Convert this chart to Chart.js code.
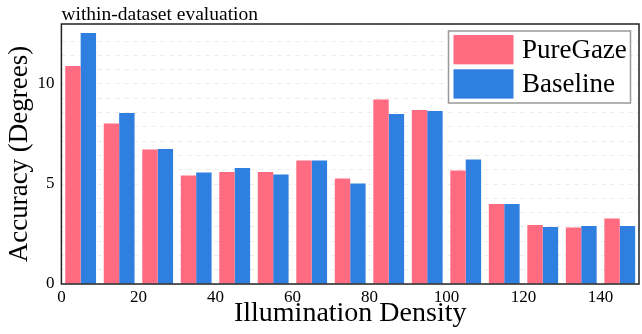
<!DOCTYPE html>
<html>
<head>
<meta charset="utf-8">
<script src="https://cdn.jsdelivr.net/npm/chart.js@4"></script>
<style>
  html, body { margin: 0; padding: 0; background: #ffffff; }
  #wrap { width: 642px; height: 334px; position: relative; }
</style>
</head>
<body>
<div id="wrap"><canvas id="c" width="642" height="334"></canvas></div>
<script>
// ---- data ----
const densityCenters = [5, 15, 25, 35, 45, 55, 65, 75, 85, 95, 105, 115, 125, 135, 145];
const pureGazeValues = [10.9, 8.02, 6.73, 5.42, 5.6, 5.6, 6.17, 5.28, 9.22, 8.7, 5.68, 4.0, 2.95, 2.82, 3.28];
const baselineValues = [12.55, 8.55, 6.75, 5.57, 5.8, 5.47, 6.17, 5.03, 8.5, 8.65, 6.23, 4.0, 2.85, 2.9, 2.9];
const xTickLabels = [0, 20, 40, 60, 80, 100, 120, 140];
const yTickLabels = [0, 5, 10];
const seriesNames = ['PureGaze', 'Baseline'];
const chartTitle = 'within-dataset evaluation';
const xTitle = 'Illumination Density';
const yTitle = 'Accuracy (Degrees)';

const SERIF = '"Liberation Serif", "DejaVu Serif", serif';
const PINK = '#ff6b81';
const BLUE = '#2f7fe0';

const toPoints = (vals) => vals.map((v, i) => ({ x: densityCenters[i], y: v }));

const framePlugin = {
  id: 'frameAndDecor',
  afterDraw(chart) {
    const { ctx, chartArea: ca } = chart;
    ctx.save();
    // frame
    ctx.strokeStyle = '#222';
    ctx.lineWidth = 1.5;
    ctx.strokeRect(ca.left, ca.top, ca.right - ca.left, ca.bottom - ca.top);
    // title
    ctx.fillStyle = '#000';
    ctx.font = '19.5px ' + SERIF;
    ctx.textAlign = 'left';
    ctx.textBaseline = 'alphabetic';
    ctx.fillText(chartTitle, ca.left, 19.5);
    // legend
    const bx = ca.right - 190.5, by = ca.top + 7, bw = 182, bh = 72;
    ctx.fillStyle = '#fff';
    ctx.fillRect(bx, by, bw, bh);
    ctx.strokeStyle = '#999';
    ctx.lineWidth = 1.5;
    ctx.strokeRect(bx, by, bw, bh);
    chart.data.datasets.forEach((ds, i) => {
      const sy = by + 4 + i * 34.3;
      ctx.fillStyle = ds.backgroundColor;
      ctx.fillRect(bx + 5, sy, 60, 29.3);
      ctx.fillStyle = '#000';
      ctx.font = '27px ' + SERIF;
      ctx.textBaseline = 'middle';
      ctx.fillText(ds.label, bx + 73.4, sy + 15.5);
    });
    ctx.restore();
  }
};

new Chart(document.getElementById('c'), {
  type: 'bar',
  data: {
    datasets: [
      { label: seriesNames[0], data: toPoints(pureGazeValues), backgroundColor: PINK, borderWidth: 0 },
      { label: seriesNames[1], data: toPoints(baselineValues), backgroundColor: BLUE, borderWidth: 0 }
    ]
  },
  options: {
    responsive: false,
    animation: false,
    categoryPercentage: 0.8,
    barPercentage: 1.0,
    layout: { padding: { top: 24, right: 3, left: 0, bottom: 0 } },
    plugins: {
      legend: { display: false },
      title: { display: false },
      tooltip: { enabled: false }
    },
    scales: {
      x: {
        type: 'linear',
        min: 0,
        max: 150,
        offset: false,
        grid: { display: false, drawTicks: false },
        border: { display: false },
        afterBuildTicks: (scale) => { scale.ticks = xTickLabels.map(v => ({ value: v })); },
        afterFit: (scale) => { scale.height = 50; },
        ticks: {
          maxRotation: 0,
          autoSkip: false,
          padding: 3,
          color: '#000',
          font: { family: SERIF, size: 17 },
          callback: (v) => String(v)
        },
        title: {
          display: true,
          text: xTitle,
          color: '#000',
          font: { family: SERIF, size: 28, lineHeight: 1 },
          padding: { top: 0, bottom: 6 }
        }
      },
      y: {
        min: 0,
        max: 13,
        grid: { color: 'rgba(0,0,0,0.07)', lineWidth: 1, drawTicks: false },
        border: { display: false, dash: [5, 4] },
        afterFit: (scale) => { scale.width = 61.4; },
        ticks: {
          stepSize: 5 / 7,
          padding: 7,
          autoSkip: false,
          color: '#000',
          font: { family: SERIF, size: 17 },
          callback: (v) => {
            const r = Math.round(v);
            return (Math.abs(v - r) < 1e-6 && yTickLabels.includes(r)) ? String(r) : '';
          }
        },
        title: {
          display: true,
          text: yTitle,
          color: '#000',
          font: { family: SERIF, size: 27, lineHeight: 1 },
          padding: { top: 6, bottom: 0 }
        }
      }
    }
  },
  plugins: [framePlugin]
});
</script>
</body>
</html>
